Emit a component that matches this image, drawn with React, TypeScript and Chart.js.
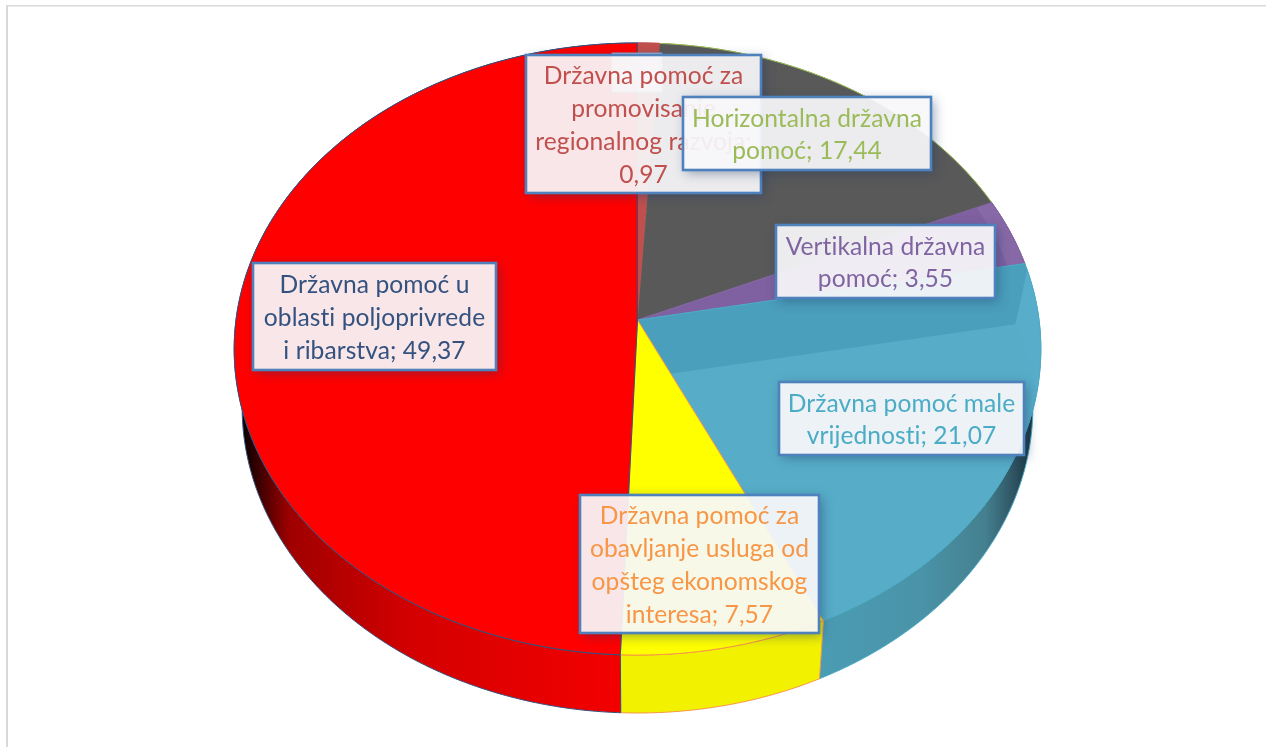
import React, { useEffect, useRef } from "react";
import { Chart, registerables } from "chart.js";

Chart.register(...registerables);

// ---- data ----
const categories = [
  "Državna pomoć za promovisanje regionalnog razvoja",
  "Horizontalna državna pomoć",
  "Vertikalna državna pomoć",
  "Državna pomoć male vrijednosti",
  "Državna pomoć za obavljanje usluga od opšteg ekonomskog interesa",
  "Državna pomoć u oblasti poljoprivrede i ribarstva",
];
const values = [0.97, 17.44, 3.55, 21.07, 7.57, 49.37];
const sliceColors = ["#c0504d", "#595959", "#7f60a0", "#57adc8", "#ffff00", "#ff0000"];
const borderColors = ["#c0504d", "#9bbb59", "#8064a2", "#4bacc6", "#f79646", "#34527f"];
const labelColors = ["#c0504d", "#9bbb59", "#8064a2", "#4bacc6", "#f79646", "#34527f"];
const labelLines = [
  ["Državna pomoć za", "promovisanje", "regionalnog razvoja;", "0,97"],
  ["Horizontalna državna", "pomoć; 17,44"],
  ["Vertikalna državna", "pomoć; 3,55"],
  ["Državna pomoć male", "vrijednosti; 21,07"],
  ["Državna pomoć za", "obavljanje usluga od", "opšteg ekonomskog", "interesa; 7,57"],
  ["Državna pomoć u", "oblasti poljoprivrede", "i ribarstva; 49,37"],
];

// ---- layout / style ----
const W = 1266;
const H = 747;
const FONT = '24.6px Lato, "Open Sans", sans-serif';
const LINE = 32.8;
const TEXT_SHIFT = 1.5;
// x0, y0, x1, y1 of the label boxes, same order as the categories
const labelBoxes = [
  [526, 55, 761, 193],
  [683, 97, 931, 170],
  [776, 225, 995, 298],
  [779, 382, 1024, 455],
  [580, 495, 819, 633],
  [253, 263, 496, 370],
];
const drawOrder = [0, 1, 2, 3, 4, 5];
const ghostBox = [612, 53, 662, 92];

// projective view of the tilted disc
const CX = 637.5;
const CY = 320;
const AX = 401.5;
const BY = 303.3;
const K = 0.0948;
const DEPTH_H = 60.3;
const DEPTH_M = 0.02;

function project(angle: number, r: number, depth: number) {
  const u = r * Math.cos(angle);
  const v = r * Math.sin(angle);
  const w = 1 - K * v + DEPTH_M * depth;
  return { x: CX + (AX * u) / w, y: CY + (BY * v + DEPTH_H * depth) / w };
}

function edge(ctx: CanvasRenderingContext2D, a0: number, a1: number, r: number, depth: number, move: boolean) {
  const n = Math.max(2, Math.ceil(Math.abs(a1 - a0) / 0.008));
  for (let i = 0; i <= n; i++) {
    const p = project(a0 + ((a1 - a0) * i) / n, r, depth);
    if (i === 0 && move) ctx.moveTo(p.x, p.y);
    else ctx.lineTo(p.x, p.y);
  }
}

function slicePath(ctx: CanvasRenderingContext2D, a0: number, a1: number) {
  ctx.beginPath();
  ctx.moveTo(CX, CY);
  edge(ctx, a0, a1, 1, 0, false);
  ctx.closePath();
}

function sideFill(ctx: CanvasRenderingContext2D, i: number) {
  if (i === 5) {
    const g = ctx.createLinearGradient(240, 0, 625, 0);
    g.addColorStop(0, "#000000");
    g.addColorStop(0.05, "#3c0000");
    g.addColorStop(0.13, "#a00000");
    g.addColorStop(0.45, "#d40000");
    g.addColorStop(1, "#f40000");
    return g;
  }
  if (i === 4) return "#f2f200";
  if (i === 3) {
    const g = ctx.createLinearGradient(815, 0, 1028, 0);
    g.addColorStop(0, "#4a9db4");
    g.addColorStop(0.5, "#4a93a8");
    g.addColorStop(0.8, "#44808f");
    g.addColorStop(0.94, "#2d5260");
    g.addColorStop(1, "#1e3a44");
    return g;
  }
  return sliceColors[i];
}

const discPlugin = {
  id: "tiltedDisc",
  beforeDraw(chart: any) {
    const ctx = chart.ctx;
    ctx.save();
    ctx.fillStyle = "#ffffff";
    ctx.fillRect(0, 0, W, H);
    ctx.fillStyle = "#d9d9d9";
    ctx.fillRect(6, 5, W - 6, 1.5);
    ctx.fillRect(6, 5, 2, H - 5);
    ctx.restore();
  },
  beforeDatasetDraw(chart: any) {
    const ctx: CanvasRenderingContext2D = chart.ctx;
    const arcs = chart.getDatasetMeta(0).data;
    ctx.save();
    // side wall
    arcs.forEach((arc: any, i: number) => {
      const { startAngle, endAngle } = arc.getProps(["startAngle", "endAngle"], true);
      ctx.beginPath();
      edge(ctx, startAngle, endAngle, 1, 0, true);
      edge(ctx, endAngle, startAngle, 1, 1, false);
      ctx.closePath();
      ctx.fillStyle = sideFill(ctx, i);
      ctx.fill();
      ctx.lineWidth = 1;
      ctx.strokeStyle = borderColors[i];
      ctx.stroke();
    });
    // top face
    arcs.forEach((arc: any, i: number) => {
      const { startAngle, endAngle } = arc.getProps(["startAngle", "endAngle"], true);
      slicePath(ctx, startAngle, endAngle);
      ctx.fillStyle = sliceColors[i];
      ctx.fill();
      ctx.save();
      ctx.clip();
      if (i === 3) {
        const corner = project(0.015, 0.94, 0);
        // darker facet towards the back of the slice
        ctx.beginPath();
        ctx.moveTo(CX, CY);
        edge(ctx, startAngle - 0.02, startAngle - 0.02, 1.02, 0, false);
        ctx.lineTo(corner.x, corner.y);
        const inner = project(endAngle + 0.05, 0.19, 0);
        ctx.lineTo(inner.x, inner.y);
        ctx.closePath();
        ctx.fillStyle = "#4a9fbc";
        ctx.fill();
        // slightly lighter rim next to the facet corner
        ctx.beginPath();
        ctx.moveTo(corner.x, corner.y);
        edge(ctx, startAngle, 0.33, 1.02, 0, false);
        const low = project(0.16, 0.985, 0);
        ctx.lineTo(low.x, low.y);
        ctx.closePath();
        ctx.fillStyle = "#58aeca";
        ctx.fill();
      }
      if (i === 2) {
        ctx.beginPath();
        edge(ctx, startAngle, endAngle, 1.02, 0, true);
        edge(ctx, endAngle, startAngle, 0.955, 0, false);
        ctx.closePath();
        ctx.fillStyle = "#8869a7";
        ctx.fill();
      }
      ctx.restore();
      if (i === 1) {
        // the dark slice only carries its border on the outer rim
        ctx.beginPath();
        edge(ctx, startAngle, endAngle, 1, 0, true);
      } else {
        slicePath(ctx, startAngle, endAngle);
      }
      ctx.lineWidth = 1;
      ctx.strokeStyle = borderColors[i];
      ctx.stroke();
    });
    ctx.restore();
    return false;
  },
  afterDraw(chart: any) {
    const ctx: CanvasRenderingContext2D = chart.ctx;
    ctx.save();
    (ctx as any).letterSpacing = "0.05px";
    drawBox(ctx, ghostBox, "rgba(255,255,255,0.75)", "#7ea3cf", 1, false);
    ctx.textAlign = "center";
    ctx.textBaseline = "middle";
    ctx.font = FONT;
    ctx.fillStyle = "rgba(200,215,235,0.9)";
    ctx.fillText("0", (ghostBox[0] + ghostBox[2]) / 2, 72);
    drawOrder.forEach((i) => {
      const b = labelBoxes[i];
      drawBox(ctx, b, "rgba(247,248,250,0.93)", "#4f81bd", 2.6, true);
      const lines = labelLines[i];
      const mid = (b[1] + b[3]) / 2 + TEXT_SHIFT;
      ctx.fillStyle = labelColors[i];
      ctx.font = FONT;
      ctx.textAlign = "center";
      ctx.textBaseline = "middle";
      lines.forEach((t, k) => {
        ctx.fillText(t, (b[0] + b[2]) / 2, mid + (k - (lines.length - 1) / 2) * LINE);
      });
    });
    ctx.restore();
  },
};

function drawBox(ctx: CanvasRenderingContext2D, b: number[], fill: string, stroke: string, lw: number, shadow: boolean) {
  const [x0, y0, x1, y1] = b;
  if (shadow) {
    ctx.save();
    ctx.beginPath();
    ctx.rect(0, 0, W, H);
    ctx.rect(x0, y0, x1 - x0, y1 - y0);
    ctx.clip("evenodd");
    ctx.shadowColor = "rgba(31,55,100,0.45)";
    ctx.shadowBlur = 11;
    ctx.shadowOffsetX = 3;
    ctx.shadowOffsetY = 3;
    ctx.fillStyle = "#000";
    ctx.fillRect(x0, y0, x1 - x0, y1 - y0);
    ctx.restore();
  }
  ctx.fillStyle = fill;
  ctx.fillRect(x0, y0, x1 - x0, y1 - y0);
  ctx.lineWidth = lw;
  ctx.strokeStyle = stroke;
  ctx.strokeRect(x0, y0, x1 - x0, y1 - y0);
}

export default function App() {
  const ref = useRef<HTMLCanvasElement>(null);
  useEffect(() => {
    const chart = new Chart(ref.current as HTMLCanvasElement, {
      type: "pie",
      data: {
        labels: categories,
        datasets: [{ data: values, backgroundColor: sliceColors, borderColor: borderColors }],
      },
      options: {
        responsive: false,
        animation: false,
        layout: { padding: 0 },
        plugins: { legend: { display: false }, tooltip: { enabled: false } },
      },
      plugins: [discPlugin],
    } as any);
    return () => chart.destroy();
  }, []);
  return (
    <div style={{ position: "absolute", left: 0, top: 0, width: W, height: H }}>
      <canvas ref={ref} width={W} height={H} style={{ display: "block", width: W, height: H }} />
    </div>
  );
}
